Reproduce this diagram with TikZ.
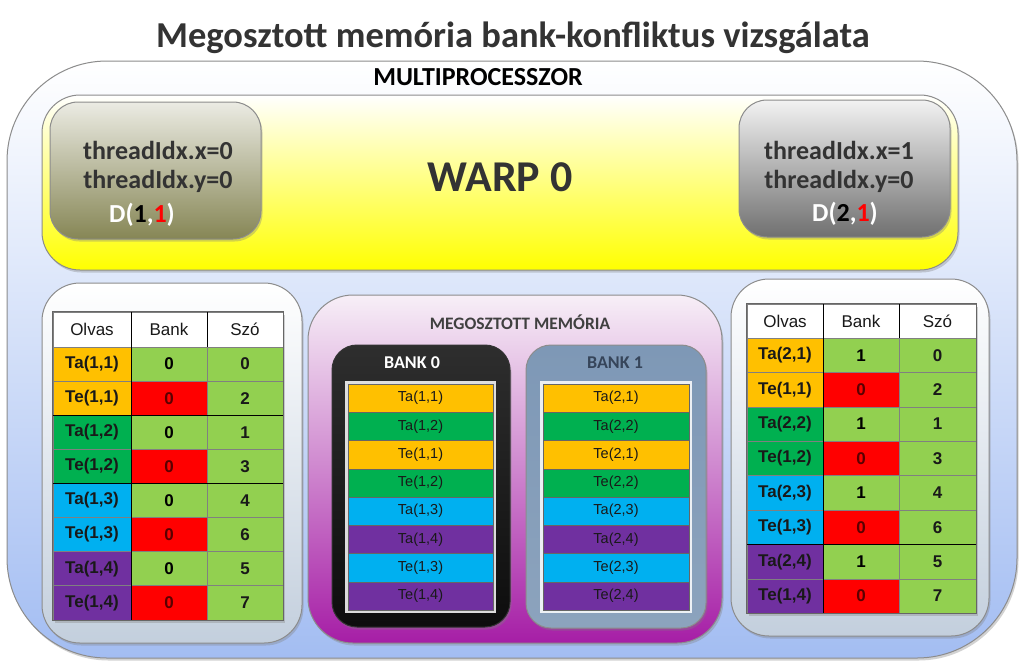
\documentclass[tikz,border=0pt]{standalone}
\usepackage{fontspec}
\setmainfont{Carlito}
\newfontfamily\arialfont{Liberation Sans}
\usetikzlibrary{shadows}
\definecolor{cOrange}{HTML}{FFC000}
\definecolor{cGreen}{HTML}{00B050}
\definecolor{cBlue}{HTML}{00B0F0}
\definecolor{cPurple}{HTML}{7030A0}
\definecolor{cRed}{HTML}{FF0000}
\definecolor{cLGreen}{HTML}{92D050}
\definecolor{cDark}{HTML}{333333}
\definecolor{cDarkRed}{HTML}{5A0000}
\definecolor{cBorder}{HTML}{8C8C8C}
\definecolor{cOuterBot}{HTML}{A3BDF2}
\definecolor{cPanelBot}{HTML}{C3CFDD}
\definecolor{cMemTop}{HTML}{F7EFF7}
\definecolor{cMemMid}{HTML}{DDA6DD}
\definecolor{cMemBot}{HTML}{A61EA6}
\definecolor{cBankOneTop}{HTML}{7E98B6}
\definecolor{cBankOneBot}{HTML}{8CA3BD}
\definecolor{cBankOneText}{HTML}{36455A}
\definecolor{cOliveTop}{HTML}{EBEBE3}
\definecolor{cOliveBot}{HTML}{868655}
\definecolor{cGrayTop}{HTML}{F2F2F2}
\definecolor{cGrayBot}{HTML}{707070}
\tikzset{
  myshadow/.style={drop shadow={shadow xshift=1.5pt, shadow yshift=-2.5pt, opacity=0.35}},
  titlefont/.style={font=\bfseries\fontsize{36.5}{36.5}\selectfont},
  thr/.style={font=\bfseries\fontsize{26}{26}\selectfont, text=cDark, inner sep=0pt},
  cell/.style={rectangle, draw=black!50, line width=0.5pt, inner sep=0pt,
    minimum height=34.1pt, font=\arialfont\bfseries\fontsize{17}{17}\selectfont, text=black!90},
  rcell/.style={cell, minimum height=34.4pt},
  hcell/.style={cell, fill=white, font=\arialfont\fontsize{17}{17}\selectfont},
  bcell/.style={rectangle, draw=black!60, line width=0.4pt, inner sep=0pt,
    minimum width=145pt, minimum height=28.25pt, font=\arialfont\fontsize{14.5}{14.5}\selectfont, text=black!90},
  grpline/.style={draw=black, line width=1pt},
}
\begin{document}
\begin{tikzpicture}[x=1pt,y=-1pt]
\useasboundingbox (0,0) rectangle (1024,670);
\fill[white] (0,0) rectangle (1024,670);

% ---- title ----
\node[titlefont, text=cDark] (title) at (513,38) {Megosztott memória bank-konfliktus vizsgálata};

% ---- multiprocessor ----
\draw[cBorder, line width=1pt, rounded corners=100pt, top color=white, bottom color=cOuterBot, myshadow]
  (7,61) rectangle (1017,658);
\node[font=\bfseries\fontsize{26}{26}\selectfont, text=black] (mp) at (478,77) {MULTIPROCESSZOR};

% ---- warp ----
\draw[cBorder, line width=1pt, rounded corners=38pt, top color=white, middle color=yellow!55!white, bottom color=yellow, myshadow]
  (42,95) rectangle (958,270);
\node[font=\bfseries\fontsize{44}{44}\selectfont, text=cDark] (warp) at (500,177) {WARP 0};

\draw[cBorder, line width=1pt, rounded corners=28pt, top color=cOliveTop, bottom color=cOliveBot, myshadow]
  (50,102) rectangle (261,239);
\node[thr] (t1x) at (158,150) {threadIdx.x=0};
\node[thr] (t1y) at (158,181) {threadIdx.y=0};
\node[thr, text=white] (d1) at (142,215) {D(\textcolor{black}{1},\textcolor{red}{1})};

\draw[cBorder, line width=1pt, rounded corners=28pt, top color=cGrayTop, bottom color=cGrayBot, myshadow]
  (739,100) rectangle (950,237);
\node[thr] (t2x) at (839,150) {threadIdx.x=1};
\node[thr] (t2y) at (839,181) {threadIdx.y=0};
\node[thr, text=white] (d2) at (845,214) {D(\textcolor{black}{2},\textcolor{red}{1})};

% ---- left panel ----
\draw[cBorder, line width=1pt, rounded corners=38pt, top color=white, bottom color=cPanelBot, myshadow]
  (42,283) rectangle (302,643);
\fill[white, myshadow] (53,312) rectangle (283,620);
\node[hcell, minimum width=78pt, minimum height=35pt] (LhO) at (92,329.5) {Olvas};
\node[hcell, minimum width=76pt, minimum height=35pt] (LhB) at (169,329.5) {Bank};
\node[hcell, minimum width=76pt, minimum height=35pt] (LhS) at (245,329.5) {Szó};
\foreach \lab/\col/\bk/\bcol/\tcol/\sz [count=\i] in {
  {Ta(1,1)}/cOrange/0/cLGreen/black/0,
  {Te(1,1)}/cOrange/0/cRed/cDarkRed/2,
  {Ta(1,2)}/cGreen/0/cLGreen/black/1,
  {Te(1,2)}/cGreen/0/cRed/cDarkRed/3,
  {Ta(1,3)}/cBlue/0/cLGreen/black/4,
  {Te(1,3)}/cBlue/0/cRed/cDarkRed/6,
  {Ta(1,4)}/cPurple/0/cLGreen/black/5,
  {Te(1,4)}/cPurple/0/cRed/cDarkRed/7}{
  \node[cell, fill=\col, minimum width=78pt] (La\i) at (92,{347+34.1*(\i-0.5)}) {\lab};
  \node[cell, fill=\bcol, text=\tcol, minimum width=76pt] (Lb\i) at (169,{347+34.1*(\i-0.5)}) {\bk};
  \node[cell, fill=cLGreen, minimum width=76pt] (Lc\i) at (245,{347+34.1*(\i-0.5)}) {\sz};
}
\draw[grpline] (La2.south west) -- (Lc2.south east);
\draw[grpline] (La4.south west) -- (Lc4.south east);
\draw[black, line width=0.8pt] (LhO.north east) -- (La8.south east);
\draw[black, line width=0.8pt] (LhB.north east) -- (LhB.south east);
\draw[black!60, line width=0.8pt] (LhO.north west) rectangle (Lc8.south east);

% ---- shared memory ----
\draw[cBorder, line width=1pt, rounded corners=45pt, top color=cMemTop, middle color=cMemMid, bottom color=cMemBot, myshadow]
  (308,295) rectangle (722,643);
\node[font=\bfseries\fontsize{17.5}{17.5}\selectfont, text=black!75] (mem) at (520,322) {MEGOSZTOTT MEMÓRIA};

\draw[black!80, line width=1pt, rounded corners=25pt, top color=black!82, bottom color=black!95, myshadow]
  (332,345) rectangle (510,627);
\node[font=\bfseries\fontsize{18}{18}\selectfont, text=white] (b0) at (412,363) {BANK 0};
\draw[cBorder, line width=1pt, rounded corners=25pt, top color=cBankOneTop, bottom color=cBankOneBot, myshadow]
  (526,345) rectangle (706,628);
\node[font=\bfseries\fontsize{18}{18}\selectfont, text=cBankOneText] (b1) at (615,363) {BANK 1};

\fill[white, opacity=0.85] (345,381) rectangle (496,613);
\fill[white, opacity=0.85] (540,381) rectangle (692,613);
\foreach \p/\r/\c [count=\i] in {Ta/1/cOrange, Ta/2/cGreen, Te/1/cOrange, Te/2/cGreen,
  Ta/3/cBlue, Ta/4/cPurple, Te/3/cBlue, Te/4/cPurple}{
  \node[bcell, fill=\c] (BA\i) at (420.5,{384+28.25*(\i-0.5)}) {\p(1,\r)};
  \node[bcell, fill=\c, minimum width=146pt] (BB\i) at (616,{384+28.25*(\i-0.5)}) {\p(2,\r)};
}

% ---- right panel ----
\draw[cBorder, line width=1pt, rounded corners=38pt, top color=white, bottom color=cPanelBot, myshadow]
  (731,279) rectangle (989,636);
\fill[white, myshadow] (747,304) rectangle (976,613);
\node[hcell, minimum width=76pt, minimum height=34pt] (RhO) at (785,321) {Olvas};
\node[hcell, minimum width=76pt, minimum height=34pt] (RhB) at (861,321) {Bank};
\node[hcell, minimum width=77pt, minimum height=34pt] (RhS) at (937.5,321) {Szó};
\foreach \lab/\col/\bk/\bcol/\tcol/\sz [count=\i] in {
  {Ta(2,1)}/cOrange/1/cLGreen/black/0,
  {Te(1,1)}/cOrange/0/cRed/cDarkRed/2,
  {Ta(2,2)}/cGreen/1/cLGreen/black/1,
  {Te(1,2)}/cGreen/0/cRed/cDarkRed/3,
  {Ta(2,3)}/cBlue/1/cLGreen/black/4,
  {Te(1,3)}/cBlue/0/cRed/cDarkRed/6,
  {Ta(2,4)}/cPurple/1/cLGreen/black/5,
  {Te(1,4)}/cPurple/0/cRed/cDarkRed/7}{
  \node[rcell, fill=\col, minimum width=76pt] (Ra\i) at (785,{338+34.4*(\i-0.5)}) {\lab};
  \node[rcell, fill=\bcol, text=\tcol, minimum width=76pt] (Rb\i) at (861,{338+34.4*(\i-0.5)}) {\bk};
  \node[rcell, fill=cLGreen, minimum width=77pt] (Rc\i) at (937.5,{338+34.4*(\i-0.5)}) {\sz};
}
\draw[grpline] (Ra6.south west) -- (Rc6.south east);
\draw[black, line width=0.8pt] (RhO.north east) -- (Ra8.south east);
\draw[black, line width=0.8pt] (RhB.north east) -- (RhB.south east);
\draw[black!60, line width=0.8pt] (RhO.north west) rectangle (Rc8.south east);
\end{tikzpicture}
\end{document}
